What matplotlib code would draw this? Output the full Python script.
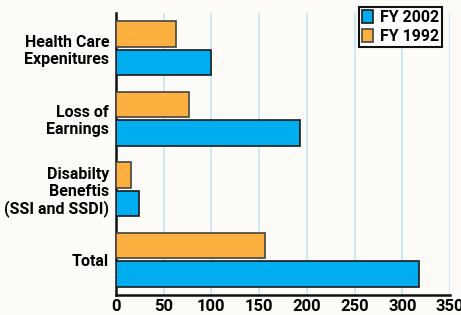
import numpy as np
import matplotlib.pyplot as plt

categories = ["Health Care\nExpenitures", "Loss of\nEarnings",
              "Disabilty\nBeneftis\n(SSI and SSDI)", "Total"]
fy2002 = [100, 193, 24.5, 318]
fy1992 = [63, 77, 16, 156]
xticks = [0, 50, 100, 150, 200, 250, 300, 350]

blue = "#00aeef"
orange = "#fbb040"

plt.rcParams['font.family'] = ['Roboto', 'DejaVu Sans']

fig = plt.figure(figsize=(4.61, 3.15), dpi=100)
fig.patch.set_facecolor("#fdfbf7")
ax = fig.add_axes([116 / 461, 1 - 295 / 315, 334 / 461, 282 / 315])
ax.set_facecolor("#fdfbf7")

y = np.arange(len(categories))
h = 0.36
ax.barh(y + 0.2, fy2002, height=h, color=blue, edgecolor="#1a1a1a",
        linewidth=1.2, label="FY 2002", zorder=3)
ax.barh(y - 0.2, fy1992, height=h, color=orange, edgecolor="#444444",
        linewidth=1.2, label="FY 1992", zorder=3)

ax.set_ylim(3.5, -0.5)
ax.set_xlim(0, 350)
ax.set_yticks(y)
ax.set_yticklabels(categories, fontsize=11.5, fontweight="bold",
                   linespacing=1.15)
ax.set_xticks(xticks)
ax.set_xticklabels([str(t) for t in xticks], fontsize=12,
                   fontweight="bold")
ax.tick_params(axis="y", length=0, pad=5)
ax.tick_params(axis="x", length=0, pad=3)

ax.grid(axis="x", color="#c8e8f4", linewidth=1.3, zorder=0)
for s in ["top", "right"]:
    ax.spines[s].set_visible(False)
for s in ["left", "bottom"]:
    ax.spines[s].set_linewidth(1.8)
    ax.spines[s].set_color("#111111")

leg = fig.legend(loc="upper right", bbox_to_anchor=(442 / 461, 1 - 7 / 315),
                 prop={"weight": "bold", "size": 11.5}, fancybox=False,
                 framealpha=1, edgecolor="#111111", borderpad=0.2,
                 handlelength=0.7, handleheight=0.9, handletextpad=0.4,
                 labelspacing=0.2, borderaxespad=0)
leg.get_frame().set_linewidth(1.5)

fig.savefig("out.png", dpi=100, facecolor=fig.get_facecolor())
